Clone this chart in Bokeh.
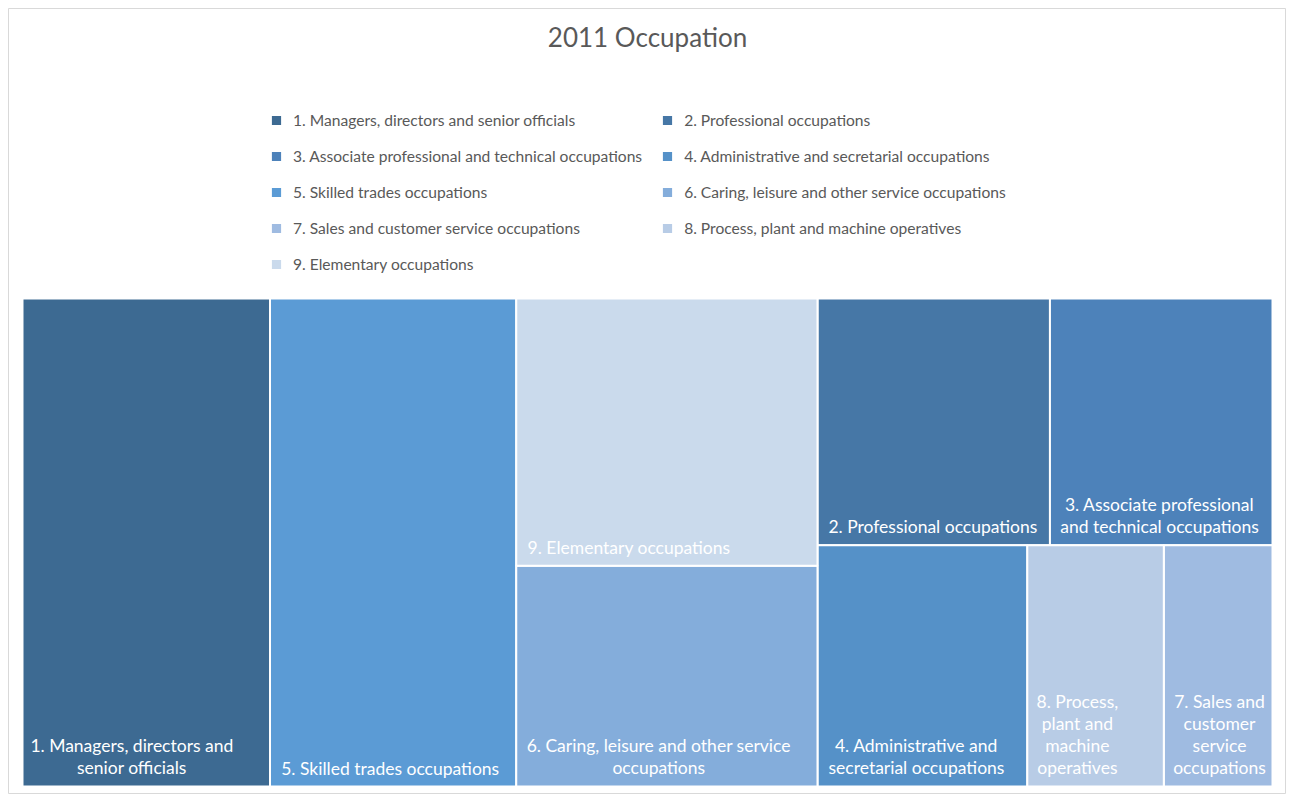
from bokeh.plotting import figure
from bokeh.models import Range1d, Label, Legend, LegendItem, ColumnDataSource
from bokeh.core.properties import value
from bokeh.embed import file_html
from bokeh.resources import INLINE

# ---- data -------------------------------------------------------------
categories = [
    "1. Managers, directors and senior officials",
    "2. Professional occupations",
    "3. Associate professional and technical occupations",
    "4. Administrative and secretarial occupations",
    "5. Skilled trades occupations",
    "6. Caring, leisure and other service occupations",
    "7. Sales and customer service occupations",
    "8. Process, plant and machine operatives",
    "9. Elementary occupations",
]
shares = [19.8, 9.4, 9.0, 8.3, 19.7, 10.9, 4.3, 5.4, 13.2]
tile_labels = [
    "1. Managers, directors and\nsenior officials",
    "2. Professional occupations",
    "3. Associate professional\nand technical occupations",
    "4. Administrative and\nsecretarial occupations",
    "5. Skilled trades occupations",
    "6. Caring, leisure and other service\noccupations",
    "7. Sales and\ncustomer\nservice\noccupations",
    "8. Process,\nplant and\nmachine\noperatives",
    "9. Elementary occupations",
]
colors = ["#3D6A92", "#4677A6", "#4D82BA", "#5591C8", "#5B9BD5",
          "#84ADDB", "#9FBBE1", "#B8CCE6", "#CADAEC"]
title_text = "2011 Occupation"

# ---- layout -----------------------------------------------------------
W, H = 1278, 786          # chart frame (page offset 8px)
X0, Y0, TW, TH = 14, 290, 1250, 488
FONT = "Lato"
LBL_SIZE = 17.5


def worst(row, side):
    s = sum(row)
    return max(max(side * side * a / (s * s), (s * s) / (side * side * a)) for a in row)


def squarify(areas, x, y, w, h):
    rects = []
    rest = list(areas)
    while rest:
        side = min(w, h)
        row = [rest[0]]
        i = 1
        while i < len(rest) and worst(row + [rest[i]], side) <= worst(row, side):
            row.append(rest[i])
            i += 1
        s = sum(row)
        if w >= h:
            cw = s / h
            yy = y
            for a in row:
                hh = a / cw
                rects.append((x, yy, cw, hh))
                yy += hh
            x += cw
            w -= cw
        else:
            rh = s / w
            xx = x
            for a in row:
                ww = a / rh
                rects.append((xx, y, ww, rh))
                xx += ww
            y += rh
            h -= rh
        rest = rest[len(row):]
    return rects


order = sorted(range(len(shares)), key=lambda i: -shares[i])
total = float(sum(shares))
areas = [shares[i] / total * TW * TH for i in order]
rs = squarify(areas, X0, Y0, TW, TH)
rects = [None] * len(shares)
for k, i in enumerate(order):
    rects[i] = rs[k]

# approximate glyph widths (em) to centre wrapped lines inside a left-anchored block
CW = {" ": 0.19, ".": 0.22, ",": 0.22, "i": 0.24, "l": 0.24, "j": 0.24, "t": 0.36,
      "f": 0.33, "r": 0.37, "s": 0.42, "c": 0.46, "z": 0.45, "m": 0.84, "w": 0.77,
      "a": 0.50, "e": 0.53, "v": 0.50, "y": 0.50, "k": 0.50, "x": 0.49, "g": 0.50}


def est_width(line, size):
    return 1.05 * size * sum(
        CW.get(ch, 0.62 if ch.isupper() else (0.58 if ch.isdigit() else 0.55)) for ch in line)


lx, ly = [], []
for (x, y, w, h), t in zip(rects, tile_labels):
    bw = max(est_width(l, LBL_SIZE) for l in t.split("\n"))
    lx.append(x + 8 + bw / 2)
    ly.append(y + h - 8)

src = ColumnDataSource(dict(
    left=[r[0] for r in rects],
    right=[r[0] + r[2] for r in rects],
    top=[r[1] for r in rects],
    bottom=[r[1] + r[3] for r in rects],
    color=colors,
    name=categories,
    lbl=tile_labels,
    lx=lx,
    ly=ly,
))

p = figure(width=W + 8, height=H + 8, output_backend="svg", toolbar_location=None,
           x_range=Range1d(0, W), y_range=Range1d(H, 0),
           min_border_left=8, min_border_top=8, min_border_right=0, min_border_bottom=0)
p.axis.visible = False
p.xgrid.visible = False
p.ygrid.visible = False
p.outline_line_color = "#D9D9D9"
p.outline_line_width = 1
p.background_fill_color = "white"
p.border_fill_color = "white"

r = p.quad(left="left", right="right", top="top", bottom="bottom", source=src,
           fill_color="color", line_color="white", line_width=2)

p.text(x="lx", y="ly", text="lbl", source=src, text_align="center",
       text_baseline="bottom", text_color="white", text_font=value(FONT),
       text_font_size=f"{LBL_SIZE}px", text_line_height=1.05)

p.add_layout(Label(x=W / 2, y=28, text=title_text, text_align="center",
                   text_baseline="middle", text_font=FONT, text_font_size="26px",
                   text_color="#595959"))

items = [LegendItem(label=c, renderers=[r], index=i) for i, c in enumerate(categories)]
legend = Legend(items=items, orientation="horizontal", ncols=2,
                location=(261, 521), border_line_color=None,
                background_fill_alpha=0, padding=0, margin=0,
                glyph_width=14, glyph_height=14, label_standoff=10,
                label_text_font=FONT, label_text_font_size="15.6px",
                label_text_color="#595959", spacing=18, label_height=14)
p.add_layout(legend, "center")

open("out.html", "w").write(file_html(p, INLINE))
